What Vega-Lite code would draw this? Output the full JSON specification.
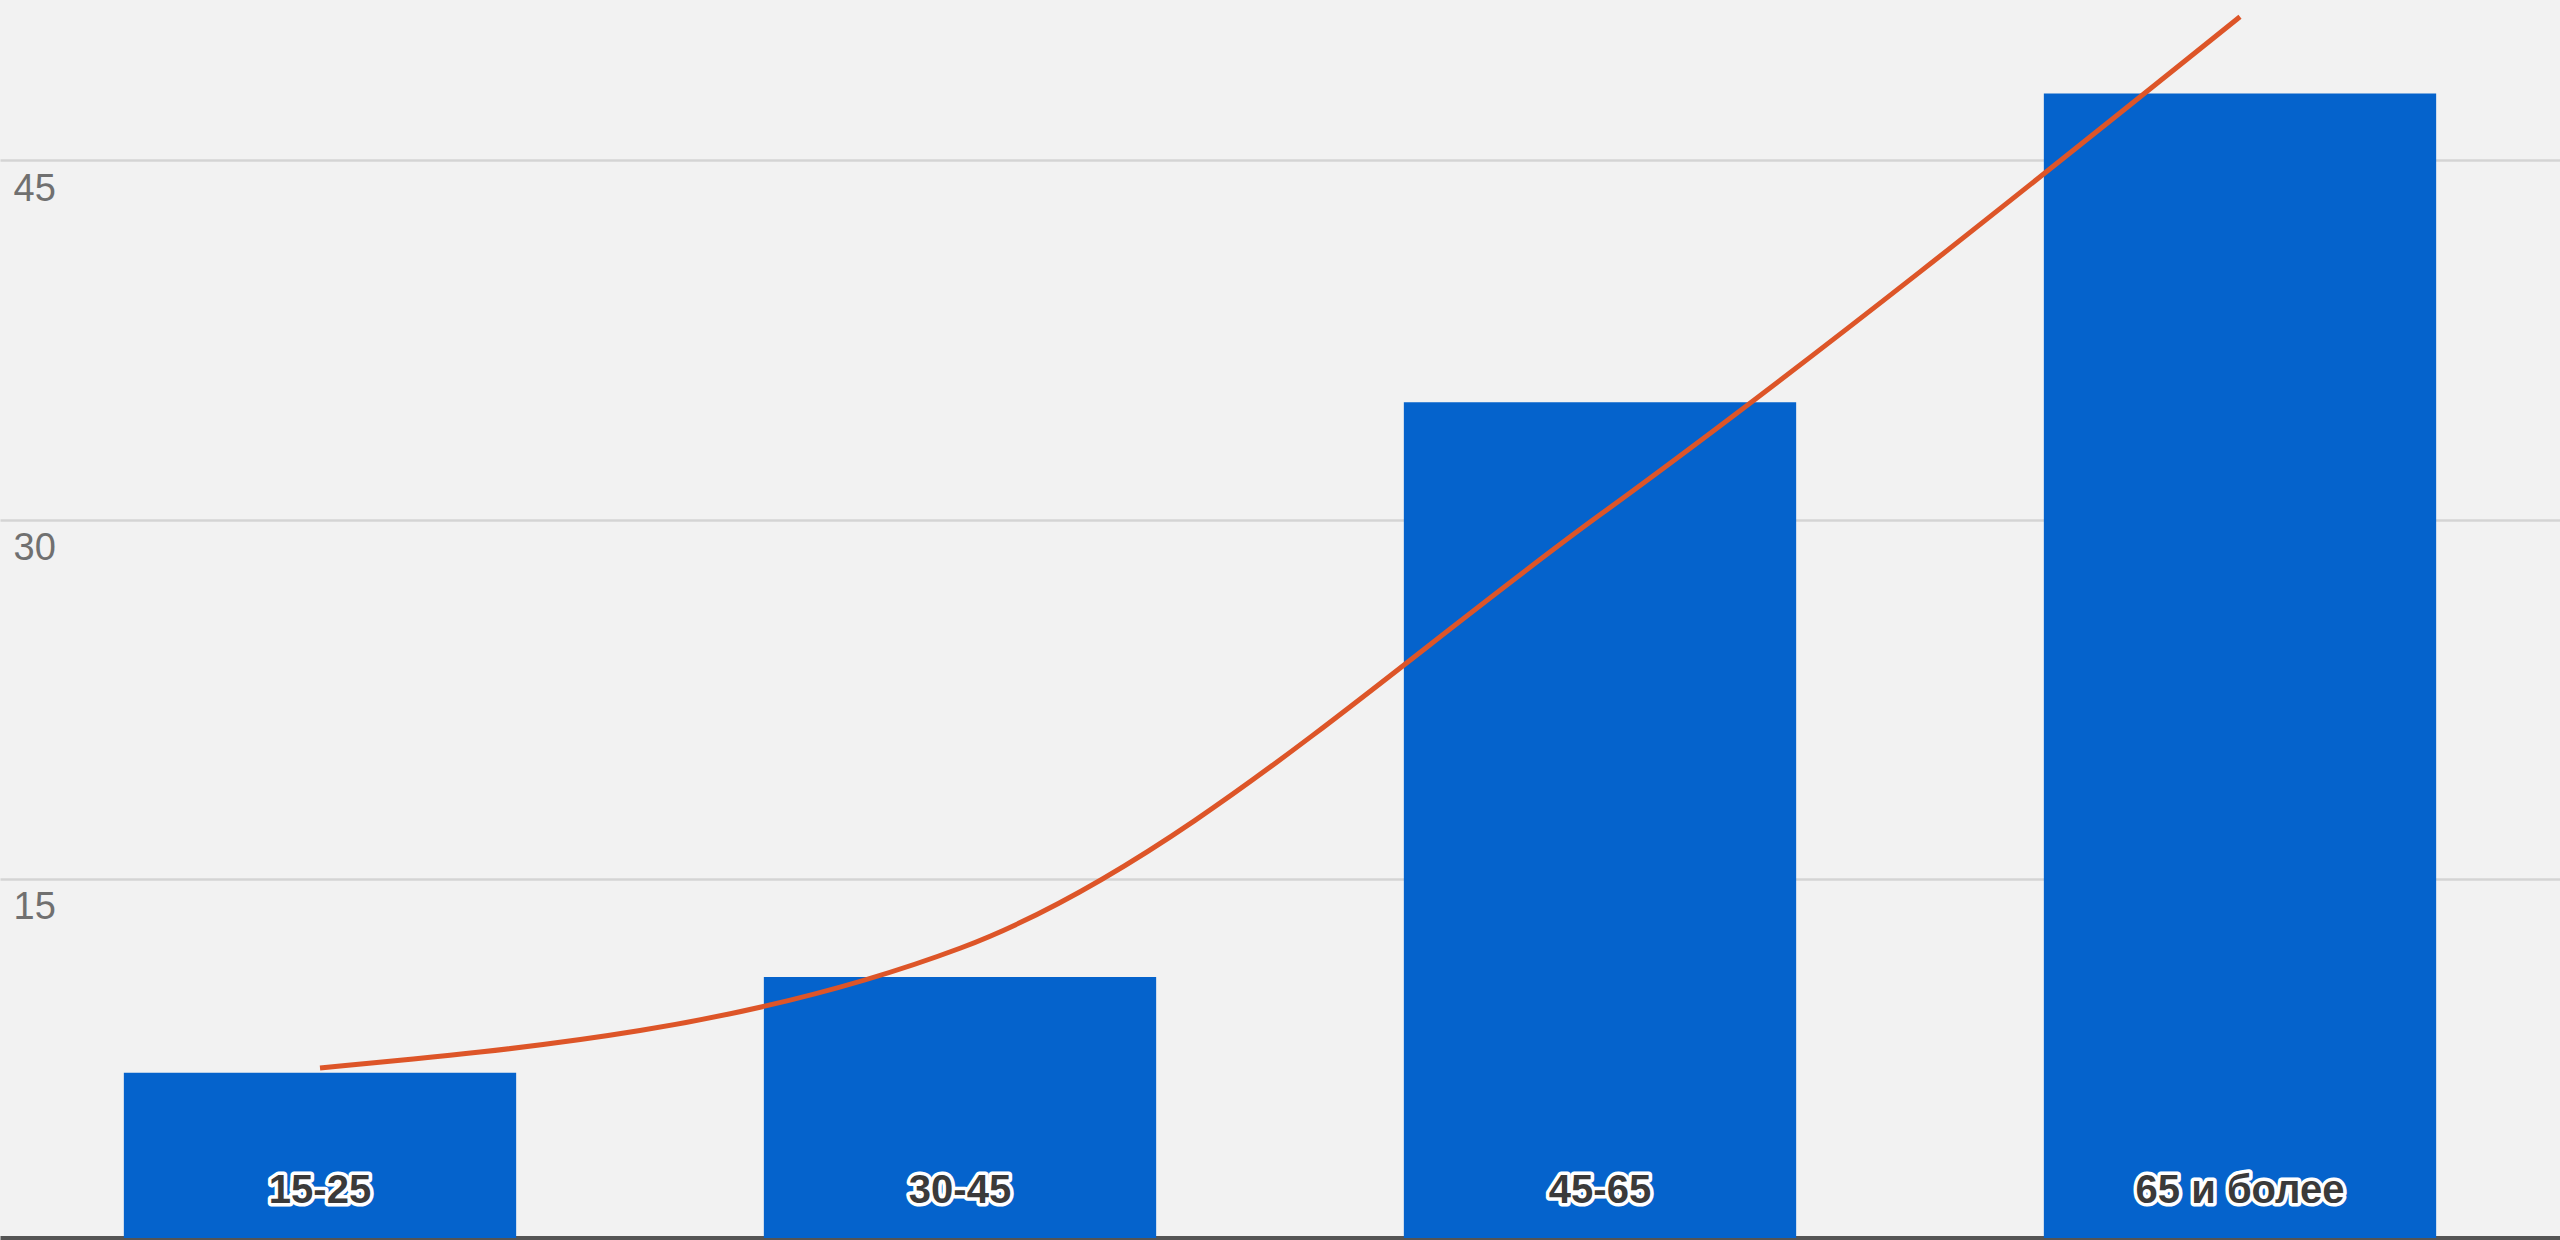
{
  "$schema": "https://vega.github.io/schema/vega-lite/v6.json",
  "width": 2560,
  "height": 1238,
  "autosize": "none",
  "padding": {"left": 0, "top": 0, "right": 0, "bottom": 2},
  "background": "#f2f2f2",
  "config": {"view": {"stroke": null, "fill": "#f2f2f2"}},
  "data": {
    "values": [
      {"group": "15-25", "value": 6.9, "trend": 7.1},
      {"group": "30-45", "value": 10.9, "trend": 12.1},
      {"group": "45-65", "value": 34.9, "trend": 30.2},
      {"group": "65 и более", "value": 47.8, "trend": 51.0}
    ]
  },
  "encoding": {
    "x": {
      "field": "group",
      "type": "nominal",
      "sort": null,
      "scale": {"paddingInner": 0.387, "paddingOuter": 0.1935},
      "axis": {
        "title": null,
        "labels": false,
        "ticks": false,
        "grid": false,
        "domain": true,
        "domainColor": "#555555",
        "domainWidth": 5
      }
    }
  },
  "layer": [
    {
      "mark": {"type": "bar", "color": "#0563CC"},
      "encoding": {
        "y": {
          "field": "value",
          "type": "quantitative",
          "scale": {"domain": [0, 51.7], "nice": false, "zero": true},
          "axis": {
            "title": null,
            "values": [15, 30, 45],
            "domain": false,
            "ticks": false,
            "tickSize": 0,
            "grid": true,
            "gridColor": "#d4d4d4",
            "gridWidth": 2.5,
            "labelAlign": "left",
            "labelBaseline": "middle",
            "labelPadding": -13,
            "labelOffset": 29,
            "labelFont": "Liberation Sans",
            "labelFontSize": 38,
            "labelColor": "#707070"
          }
        }
      }
    },
    {
      "mark": {"type": "line", "color": "#DD5528", "strokeWidth": 5, "interpolate": "monotone"},
      "encoding": {
        "y": {"field": "trend", "type": "quantitative"}
      }
    },
    {
      "mark": {
        "type": "text",
        "font": "Liberation Sans",
        "fontSize": 40,
        "fontWeight": "bold",
        "baseline": "middle",
        "align": "center",
        "dy": -47,
        "stroke": "#ffffff",
        "strokeWidth": 7,
        "strokeJoin": "round",
        "fill": "#ffffff"
      },
      "encoding": {
        "y": {"datum": 0, "type": "quantitative"},
        "text": {"field": "group"}
      }
    },
    {
      "mark": {
        "type": "text",
        "font": "Liberation Sans",
        "fontSize": 40,
        "fontWeight": "bold",
        "baseline": "middle",
        "align": "center",
        "dy": -47,
        "fill": "#3a3a3a"
      },
      "encoding": {
        "y": {"datum": 0, "type": "quantitative"},
        "text": {"field": "group"}
      }
    }
  ]
}
